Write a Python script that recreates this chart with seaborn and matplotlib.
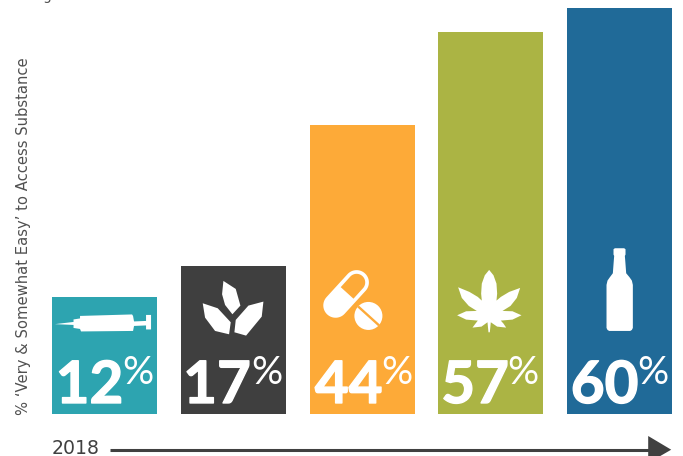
import numpy as np
import pandas as pd
import matplotlib
matplotlib.use("Agg")
import matplotlib.pyplot as plt
from matplotlib.patches import Polygon, Circle
import matplotlib.patheffects as pe
import seaborn as sns

substances = ["Heroin", "Synthetics", "Prescription pills", "Marijuana", "Alcohol"]
easy_access_pct = [12, 17, 44, 57, 60]
bar_colors = ["#2DA4B0", "#3F3F3F", "#FDAA38", "#ABB444", "#206A98"]
y_title = "% \u2018Very & Somewhat Easy\u2019 to Access Substance"
year_label = "2018"
clipped_note = "Higher rates associated"

W, H = 683, 456
BASE_Y = 414
DARK = "#404040"

# The infographic uses a compressed height scale: (percent, bar height in pixels).
scale_pct = [0, 12, 17, 44, 57, 60, 61.2]
scale_px = [0, 117, 148, 289, 382, 406, 414]


def pct_to_px(v):
    return np.interp(v, scale_pct, scale_px)


def px_to_pct(v):
    return np.interp(v, scale_px, scale_pct)


sns.set_theme(style="white")
fig = plt.figure(figsize=((W + 0.2) / 100, (H + 0.2) / 100), dpi=100, facecolor="white")

# Bars: axes span the figure width, bottom edge sits on the bar baseline.
ax = fig.add_axes([0, (H - BASE_Y) / H, 1, BASE_Y / H])
frame = pd.DataFrame({"substance": substances, "pct": easy_access_pct})
sns.barplot(data=frame, x="substance", y="pct", hue="substance", order=substances,
            hue_order=substances, palette=bar_colors, width=0.815, saturation=1,
            legend=False, ax=ax)
for patch in ax.patches:
    patch.set_linewidth(0)
ax.set_yscale("function", functions=(pct_to_px, px_to_pct))
ax.set_ylim(0, 61.2)
step = 128.75
ax.set_xlim(-104.5 / step, (W - 104.5) / step)
ax.set_axis_off()

# Overlay in pixel coordinates for text and pictograms.
ov = fig.add_axes([0, 0, 1, 1], zorder=5)
ov.set_xlim(0, W)
ov.set_ylim(H, 0)
ov.set_axis_off()
ov.patch.set_alpha(0)


def scaled(points, dx, dy, k=1 / 3):
    return [(dx + x * k, dy + y * k) for x, y in points]


def shape(points, color="white"):
    ov.add_patch(Polygon(points, closed=True, fc=color, ec="none", lw=0))


# Syringe
shape([(55, 324.2), (73.5, 322), (73.5, 319.5), (80, 318.5), (80, 316), (132, 314.5), (133, 316),
       (134, 321.5), (146, 321), (146, 315), (151, 315), (151, 329.5), (146, 329.5), (146, 325.5),
       (134, 326), (133, 331), (81, 331.5), (80, 329), (73.5, 328), (73.5, 325)])

# Sprouting leaves
shape(scaled([(85, 18), (122, 42), (136, 92), (112, 118), (90, 90), (81, 58)], 195, 275))
shape(scaled([(23, 85), (68, 100), (107, 142), (102, 178), (60, 168), (30, 128)], 195, 275))
shape(scaled([(205, 80), (200, 125), (153, 182), (118, 172), (122, 135), (160, 92)], 195, 275))


def stadium(a, b, r, start_flat=False):
    a, b = np.array(a, float), np.array(b, float)
    ang = np.arctan2(*(b - a)[::-1])
    t1 = np.linspace(ang - np.pi / 2, ang + np.pi / 2, 30)
    arc_b = b + r * np.c_[np.cos(t1), np.sin(t1)]
    if start_flat:
        arc_a = a + r * np.c_[np.cos(ang + np.array([np.pi / 2, -np.pi / 2])),
                              np.sin(ang + np.array([np.pi / 2, -np.pi / 2]))]
    else:
        t2 = t1 + np.pi
        arc_a = a + r * np.c_[np.cos(t2), np.sin(t2)]
    return np.vstack([arc_b, arc_a])


# Capsule and tablet
cap_a, cap_b = (335.5, 305.5), (356.5, 282.5)
shape(stadium(cap_a, cap_b, 12.3))
shape(stadium((347.0, 293.0), cap_b, 8.6, start_flat=True), "#FDAA38")
ov.add_patch(Circle((368.3, 316), 14, fc="white", ec="none"))
ov.plot([358, 379], [306.5, 325.5], color="#FDAA38", lw=1.7, solid_capstyle="butt")

# Cannabis leaf
shape(scaled([(117, 24), (130, 40), (139, 65), (141, 95), (139, 116), (152, 105), (177, 90), (210, 78),
              (200, 108), (181, 132), (157, 147), (187, 148), (214, 160), (187, 173), (152, 176),
              (160, 185), (168, 197), (141, 194), (122, 181), (119, 211), (115, 211), (112, 181),
              (94, 194), (67, 197), (76, 185), (83, 176), (48, 173), (21, 160), (48, 148), (80, 147),
              (56, 132), (35, 108), (24, 76), (58, 90), (83, 105), (95, 116), (93, 95), (95, 65),
              (104, 40)], 450, 262))

# Bottle
shape(scaled([(940, 28), (944, 25), (972, 25), (976, 28), (976, 44), (974, 48), (975, 60), (978, 100),
              (988, 112), (995, 122), (998, 135), (998, 264), (995, 270), (990, 273), (927, 273),
              (922, 270), (919, 264), (919, 135), (922, 122), (929, 112), (938, 100), (941, 60),
              (942, 48), (940, 44)], 300, 240))

# Percentage labels
number_x = [89.5, 217, 348.5, 475, 604.5]
percent_x = [122, 251, 381, 507, 637]
heavier = [pe.withStroke(linewidth=1.0, foreground="white")]
for value, nx, px in zip(easy_access_pct, number_x, percent_x):
    ov.text(nx, 403, str(value), family="Lato", weight="bold", fontsize=42, color="white",
            ha="center", va="baseline", path_effects=heavier)
    ov.text(px, 384, "%", family="Lato", weight="normal", fontsize=28, color="white",
            ha="left", va="baseline")

# Axis title, year and time arrow
ov.text(23, 236.5, y_title, family="DejaVu Sans", fontsize=10.6, color="#505050",
        rotation=90, ha="center", va="center")
ov.text(52, 454, year_label, family="DejaVu Sans", fontsize=13.6, color=DARK, ha="left", va="baseline")
ov.plot([110, 650], [450.3, 450.3], color=DARK, lw=2.2, solid_capstyle="butt")
shape([(648, 436), (671, 449.7), (648, 463)], DARK)

# Line of text running off the top edge
ov.text(29, -0.3, clipped_note, family="DejaVu Sans", fontsize=9.8, color="#505050",
        ha="left", va="baseline", clip_on=True)

fig.savefig("out.png", dpi=100, facecolor="white")
